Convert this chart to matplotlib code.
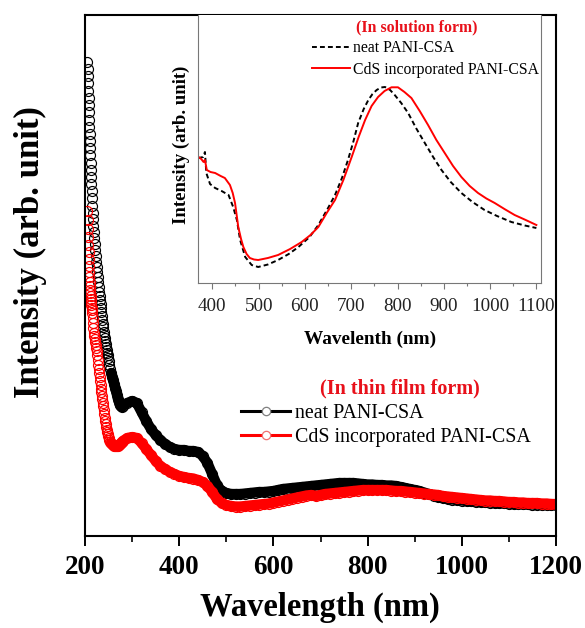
import numpy as np
import matplotlib
matplotlib.use("Agg")
import matplotlib.pyplot as plt
from matplotlib.lines import Line2D
from matplotlib.ticker import MultipleLocator

plt.rcParams['font.family'] = ['Liberation Serif', 'DejaVu Serif']

# ---------------- main plot data (thin film) ----------------
wl_a = np.arange(205, 215.01, 0.5)
wl_b = np.arange(216, 251, 1)
wl_c = np.arange(252, 281, 2)
wl_d = np.arange(290, 1201, 10)
wavelength = np.concatenate([wl_a, wl_b, wl_c, wl_d])

neat_film = np.array([
    474, 467, 460, 453, 445, 438, 431, 424, 416, 409, 402, 395, 388, 381, 373, 366, 359, 352, 345, 338, 330,
    323, 317, 310, 304, 298, 292, 286, 280, 274, 269, 264, 259, 254, 249, 244, 240, 236, 232, 228, 224,
    220, 216, 212, 209, 204, 201, 198, 195, 192, 189, 186, 183, 181, 178, 175,
    171, 167, 163, 159, 156, 152, 148, 145, 141, 137, 134, 131, 130, 129, 130,
    133, 135, 133, 124, 115, 107, 101, 96, 92, 89,
    87, 86, 86, 85, 85, 84, 80, 73, 62, 51,
    45, 43, 42, 42, 42, 42.5, 43, 43.5, 44, 44,
    44.5, 45, 46, 47, 47.5, 48, 48.5, 49, 49.5, 50,
    50.5, 51, 51.5, 52, 52.5, 53, 53, 53, 53, 52.5,
    52, 51.5, 51.5, 51, 51, 50.5, 50.5, 50, 49, 48,
    47, 46, 45, 43.5, 42, 40.5, 39, 38, 37, 36.5,
    36, 35.5, 35, 34.7, 34.4, 34, 33.7, 33.4, 33.1, 32.8,
    32.6, 32.4, 32.2, 32, 31.8, 31.6, 31.5, 31.4, 31.3, 31.2,
    31.1, 31])

cds_film = np.array([
    325, 316, 307, 299, 291, 284, 277, 270, 264, 259, 254, 250, 246, 243, 240, 237, 234, 231, 228, 226, 223,
    218, 213, 208, 203, 200, 197, 194, 191, 188, 185, 181, 176, 171, 167, 163, 159, 155, 151, 147, 144,
    140, 137, 133, 130, 126, 122, 118, 115, 112, 109, 106, 104, 102, 100, 98,
    96, 94, 93, 92, 91, 90.5, 90, 90, 90, 90.5, 91, 92, 93, 94, 95,
    98, 99, 98, 93, 87, 81, 75, 70, 67, 64,
    62, 60, 59, 58, 57.5, 56, 54, 50, 44, 37,
    33, 31, 30, 29.5, 29.5, 30, 30.5, 31, 31.5, 32,
    32.5, 33.5, 34.5, 35.5, 36.5, 37.5, 38.5, 39.5, 40.5, 41,
    40, 41, 42, 42.5, 43, 43.5, 44, 44.5, 45, 45.5,
    46, 46, 46, 46, 46, 46, 45.5, 45, 45, 44.5,
    44, 43.5, 43, 42.5, 42, 41.5, 41, 40, 39.5, 39,
    38.5, 38, 37.5, 37, 36.5, 36, 35.5, 35.5, 35, 35,
    34.5, 34, 34, 33.5, 33.5, 33, 33, 33, 32.5, 32.5,
    32, 32])

# ---------------- inset data (solution) ----------------
inset_neat_wl = [370, 380, 384, 387, 395, 406, 420, 435, 445, 453, 460, 471, 485, 499, 520,
                 542, 565, 586, 610, 629, 650, 665, 680, 693, 705, 715, 727, 737, 746, 755,
                 764, 773, 784, 794, 808, 823, 840, 859, 877, 895, 915, 938, 962, 988, 1015,
                 1046, 1075, 1100]
inset_neat = [125, 126, 131, 110, 99, 95, 92, 88, 76, 63, 43, 26, 18, 16, 18.5,
              23, 29, 36, 46, 58, 75, 88, 105, 123, 142, 160, 174, 183, 189, 193,
              195.5, 196, 193, 188, 180, 170, 155, 140, 126, 113, 101, 90, 81, 73, 67,
              61, 57.5, 55]

inset_cds_wl = [370, 376, 381, 384, 388, 396, 406, 418, 427, 438, 444, 449, 456, 462, 467,
                474, 481, 490, 499, 520, 542, 568, 593, 612, 629, 647, 665, 683, 701, 716,
                730, 744, 758, 772, 787, 801, 815, 830, 848, 866, 884, 902, 920, 938, 956,
                974, 992, 1010, 1031, 1053, 1077, 1100]
inset_cds = [126, 124, 121, 123, 113, 111, 110, 107, 105, 98, 90, 80, 56, 44, 36,
             29, 25, 23.5, 23, 25, 28, 34, 41, 48, 56, 70, 83, 103, 126, 146,
             163, 177, 186, 192, 195.7, 195.7, 191, 185, 172, 158, 143, 130, 117, 106, 97,
             90, 84.5, 80, 74, 68, 63, 58]

main_ticks = [200, 400, 600, 800, 1000, 1200]
inset_ticks = [400, 500, 600, 700, 800, 900, 1000, 1100]
labels = ["neat PANI-CSA", "CdS incorporated PANI-CSA"]

# ---------------- figure ----------------
W, H = 585, 628
fig = plt.figure(figsize=(W / 100, H / 100), dpi=100)
ax = fig.add_axes([85 / W, 1 - 536 / H, 471 / W, 521 / H])

band = wavelength >= 255
for vals, col in [(neat_film, 'black'), (cds_film, 'red')]:
    ax.plot(wavelength[band], vals[band], '-', color=col, lw=7.4,
            solid_capstyle='round', solid_joinstyle='round')
    ax.plot(wavelength, vals, 'o', ms=7.2, mfc='none', mec=col, mew=0.85)

ax.set_xlim(200, 1200)
ax.set_ylim(0, 521)
ax.set_yticks([])
ax.set_xticks(main_ticks)
ax.xaxis.set_minor_locator(MultipleLocator(100))
ax.tick_params(axis='x', which='major', direction='out', length=7.5, width=1.4,
               labelsize=19.5, pad=6)
ax.tick_params(axis='x', which='minor', direction='out', length=4.5, width=1.2)
for lab in ax.get_xticklabels():
    lab.set_fontweight('bold')
for s in ax.spines.values():
    s.set_linewidth(1.5)

fig.text(320 / W, 1 - 607 / H, "Wavelength (nm)", ha='center', va='center',
         fontsize=23.5, fontweight='bold')
fig.text(30 / W, 1 - 252 / H, "Intensity (arb. unit)", ha='center', va='center',
         rotation=90, fontsize=25, fontweight='bold')

# main legend
h_main = [Line2D([], [], color='black', lw=2.2, marker='o', ms=6, mfc='white', mec='gray', mew=0.9),
          Line2D([], [], color='red', lw=2.2, marker='o', ms=6, mfc='white', mec='#f07070', mew=0.9)]
fig.legend(h_main, labels, loc='upper left', bbox_to_anchor=(241 / W, 1 - 404 / H),
           frameon=False, fontsize=14.4, handlelength=2.45, handletextpad=0.25,
           borderpad=0, borderaxespad=0, labelspacing=0.27, numpoints=1)
fig.text(400 / W, 1 - 388 / H, "(In thin film form)", ha='center', va='center',
         fontsize=14.5, fontweight='bold', color='#e8101a')

# ---------------- inset ----------------
axi = fig.add_axes([198 / W, 1 - 283 / H, 343 / W, 268 / H])
axi.plot(inset_neat_wl, inset_neat, color='black', lw=1.4, dashes=(2.5, 1.6))
axi.plot(inset_cds_wl, inset_cds, color='red', lw=1.4)
axi.set_xlim(369, 1110)
axi.set_ylim(0, 268)
axi.set_yticks([])
axi.set_xticks(inset_ticks)
axi.xaxis.set_minor_locator(MultipleLocator(50))
axi.tick_params(axis='x', which='major', direction='out', length=4.5, width=0.8,
                color='#777777', labelsize=13.7, pad=6, labelcolor='#222222')
axi.tick_params(axis='x', which='minor', direction='out', length=2.5, width=0.8,
                color='#777777')
for k, s in axi.spines.items():
    s.set_linewidth(0.8)
    s.set_color('#777777')
axi.spines['top'].set_visible(False)

fig.text(370 / W, 1 - 339 / H, "Wavelenth (nm)", ha='center', va='center',
         fontsize=13.9, fontweight='bold')
fig.text(181 / W, 1 - 145 / H, "Intensity (arb. unit)", ha='center', va='center',
         rotation=90, fontsize=13.5, fontweight='bold')

h_inset = [Line2D([], [], color='black', lw=1.4, dashes=(2.5, 1.6)),
           Line2D([], [], color='red', lw=1.4)]
fig.legend(h_inset, labels, loc='upper left', bbox_to_anchor=(312 / W, 1 - 40 / H),
           frameon=False, fontsize=11.3, handlelength=2.4, handletextpad=0.2,
           borderpad=0, borderaxespad=0, labelspacing=0.36)
fig.text(417 / W, 1 - 27 / H, "(In solution form)", ha='center', va='center',
         fontsize=11.4, fontweight='bold', color='#e8101a')

fig.savefig("out.png", dpi=100)
